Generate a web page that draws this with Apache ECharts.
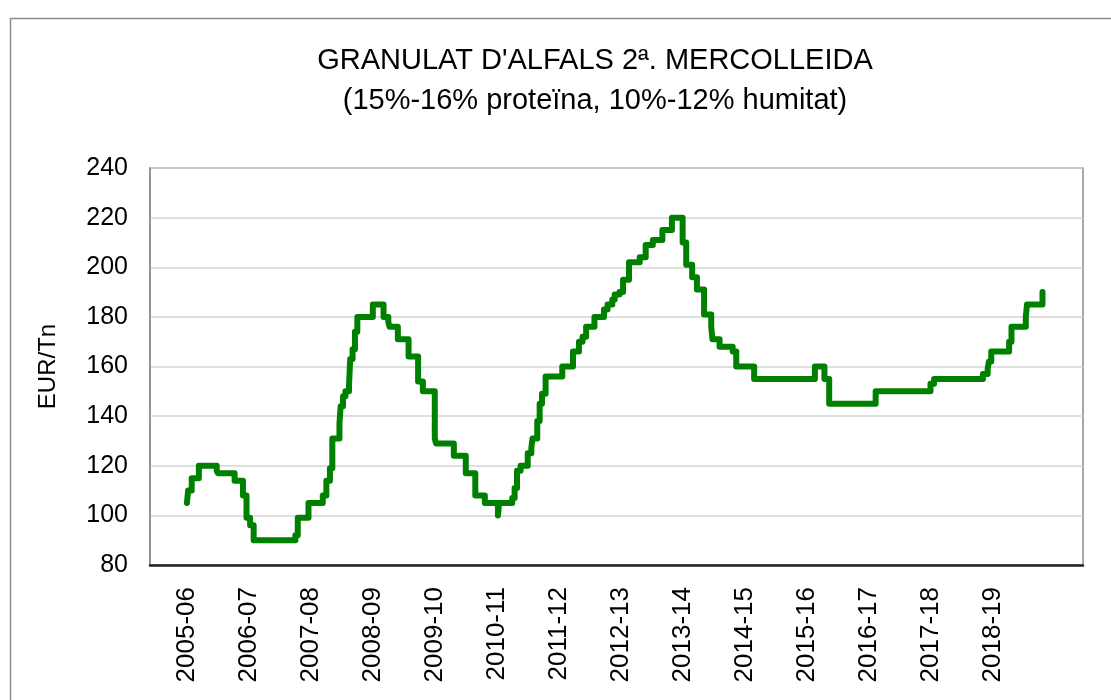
<!DOCTYPE html>
<html>
<head>
<meta charset="utf-8">
<title>Granulat d'alfals</title>
<script src="https://cdn.jsdelivr.net/npm/echarts@6/dist/echarts.min.js"></script>
<style>
    html, body { margin: 0; padding: 0; background: #fff; }
    #main { width: 1111px; height: 700px; }
</style>
</head>
<body>
<div id="main"></div>
<script>
// campanyes (etiquetes de l'eix x), una cada 52 setmanes
const seasons = ['2005-06', '2006-07', '2007-08', '2008-09', '2009-10', '2010-11', '2011-12',
    '2012-13', '2013-14', '2014-15', '2015-16', '2016-17', '2017-18', '2018-19']
const seasonTicks = seasons.map((s, i) => i * 52)

// setmana en que canvia el preu i el preu nou (EUR/Tn)
const weeks = [0, 1, 4, 10, 25, 26, 40, 47, 50, 53, 56, 91, 93, 102, 114, 117, 120, 122, 128, 129,
    131, 133, 136, 137, 139, 141, 143, 156, 165, 169, 170, 177, 186, 194, 198, 208, 209, 224, 234,
    242, 250, 261, 262, 273, 275, 277, 280, 286, 289, 290, 294, 296, 298, 301, 315, 324, 329, 332,
    335, 342, 350, 353, 357, 359, 363, 366, 371, 380, 385, 391, 399, 407, 416, 419, 424, 428, 434,
    440, 441, 447, 458, 461, 476, 527, 535, 539, 578, 624, 627, 668, 672, 673, 675, 690, 692, 704,
    705, 718]
const prices = [105, 110, 115, 120, 118, 117, 114, 108, 99, 96, 90, 92, 99, 105, 108, 114, 119, 131, 137, 144,
    148, 150, 152, 163, 167, 174, 180, 185, 180, 178, 176, 171, 164, 154, 150, 131, 129, 124, 117,
    108, 105, 100, 105, 107, 111, 118, 120, 125, 127, 131, 138, 145, 149, 156, 160, 166, 170, 172,
    176, 180, 183, 185, 187, 189, 190, 195, 202, 204, 209, 211, 215, 220, 210, 201, 196, 191, 181,
    176, 171, 168, 166, 160, 155, 160, 155, 145, 150, 153, 155, 157, 159, 162, 166, 170, 176, 180,
    185, 190]

const yMin = 80
const yMax = 240
const yStep = 20

const font = '"Liberation Sans", Arial, sans-serif'

var myChart = echarts.init(document.getElementById('main'))

var option = {
    backgroundColor: '#fff',
    animation: false,
    // marc exterior del grafic
    graphic: [{
        type: 'rect',
        left: 8,
        top: 16,
        shape: { width: 1200, height: 800 },
        style: { fill: 'none', stroke: '#8c8c8c', lineWidth: 1.5 },
        silent: true
    }],
    title: {
        text: "GRANULAT D'ALFALS 2ª. MERCOLLEIDA\n(15%-16% proteïna, 10%-12% humitat)",
        left: 590,
        top: 36,
        textAlign: 'center',
        textStyle: {
            fontFamily: font,
            fontSize: 29,
            fontWeight: 'normal',
            color: '#000',
            lineHeight: 40
        }
    },
    grid: {
        left: 150,
        right: 28,
        top: 168,
        bottom: 135,
        show: true,
        borderColor: '#8c8c8c',
        borderWidth: 1.5
    },
    xAxis: {
        type: 'value',
        min: -31,
        max: 752,
        splitLine: { show: false },
        axisLine: { show: true, onZero: false, lineStyle: { color: '#222', width: 2.5 } },
        axisTick: { show: false },
        axisLabel: {
            customValues: seasonTicks,
            formatter: function (v) {
                return seasons[Math.round(v / 52)]
            },
            rotate: 90,
            margin: 22,
            fontFamily: font,
            fontSize: 26,
            color: '#000'
        }
    },
    yAxis: {
        type: 'value',
        min: yMin,
        max: yMax,
        interval: yStep,
        name: 'EUR/Tn',
        nameLocation: 'middle',
        nameRotate: 90,
        nameGap: 90,
        nameTextStyle: { fontFamily: font, fontSize: 24, color: '#000' },
        axisLine: { show: true, onZero: false, lineStyle: { color: '#8c8c8c', width: 1.5 } },
        axisTick: { show: false },
        splitLine: { lineStyle: { color: '#d4d4d4', width: 1.5 } },
        axisLabel: {
            margin: 22,
            fontFamily: font,
            fontSize: 25,
            color: '#000'
        }
    },
    series: [{
        type: 'line',
        step: 'end',
        showSymbol: false,
        data: weeks.map((w, i) => [w, prices[i]]),
        lineStyle: { color: '#008000', width: 6, cap: 'round', join: 'round' }
    }]
}

myChart.setOption(option)
</script>
</body>
</html>
